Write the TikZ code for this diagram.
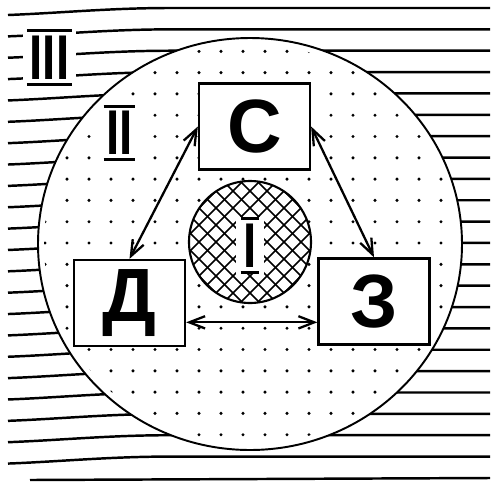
\documentclass[tikz,border=0pt]{standalone}
\usepackage{fontspec}
\setmainfont{Liberation Sans}
\usepackage{graphicx}
\usetikzlibrary{arrows.meta}

\tikzset{
  box/.style={draw, fill=white, line width=1.3pt, minimum width=2.22cm, minimum height=1.72cm, inner sep=0pt, font=\fontsize{43}{43}\selectfont\bfseries},
  numeral/.style={fill=white, inner sep=4pt, font=\fontsize{36}{36}\selectfont\bfseries},
  bar/.style={line width=1.7pt},
  link/.style={{Straight Barb[length=9pt,width=7pt]}-{Straight Barb[length=9pt,width=7pt]}, line width=1.3pt},
  hline/.style={line width=1.4pt}
}

\begin{document}
\begin{tikzpicture}[x=0.02cm, y=-0.02cm]
  \useasboundingbox (0,0) rectangle (494,481);
  % define point
  \coordinate (O) at (250,244);
  \coordinate (K) at (250,242);
  % zone III
  \foreach \k in {0,...,21}
    \draw[hline] (8,15+21.36*\k) .. controls (60,13+21.36*\k) and (110,8+21.36*\k) .. (170,8+21.36*\k) -- (490,8+21.36*\k);
  \draw[hline] (30,480) -- (490,478);
  % zone II
  \draw[line width=1.1pt, fill=white] (O) ellipse [x radius=212, y radius=206];
  \begin{scope}
    \clip (O) ellipse [x radius=206, y radius=200];
    \foreach \i in {0,...,21}
      \foreach \j in {0,...,18}
        \fill (1+22*\i, 51.3+21.3*\j) circle (1.7);
  \end{scope}
  % zone I
  \fill[white] (K) circle (61);
  \begin{scope}
    \clip (K) circle (61);
    \foreach \k in {-9,...,9} {
      \draw[line width=0.9pt] (250+17*\k-80,162) -- ++(160,160);
      \draw[line width=0.9pt] (250+17*\k+80,162) -- ++(-160,160);
    }
  \end{scope}
  \draw[line width=1.2pt] (K) circle (61);
  \node[numeral] (n1) at (250,245.5) {\scalebox{0.75}[1]{I}};
  % boxes
  \node[box] (s) at (254.5,126.5) {С};
  \node[box] (d) at (129.5,303) {Д};
  \node[box] (z) at (374,301.5) {З};
  % arrows
  \draw[link] (s.west) -- (d.north);
  \draw[link] (s.east) -- (z.north);
  \draw[link] ([yshift=-11pt]d.east) -- ([yshift=-11pt]d.east -| z.west);
  % zone labels
  \node[numeral] (n2) at (119.5,133) {\scalebox{0.75}[1]{II}};
  \node[numeral] (n3) at (49.5,57.5) {\scalebox{0.75}[1]{III}};
  \foreach \n in {n1,n2,n3} {
    \draw[bar] ([shift={(2.6pt,-1.45pt)}]\n.north west) -- ([shift={(-2.6pt,-1.45pt)}]\n.north east);
    \draw[bar] ([shift={(2.6pt,1.45pt)}]\n.south west) -- ([shift={(-2.6pt,1.45pt)}]\n.south east);
  }
\end{tikzpicture}
\end{document}
